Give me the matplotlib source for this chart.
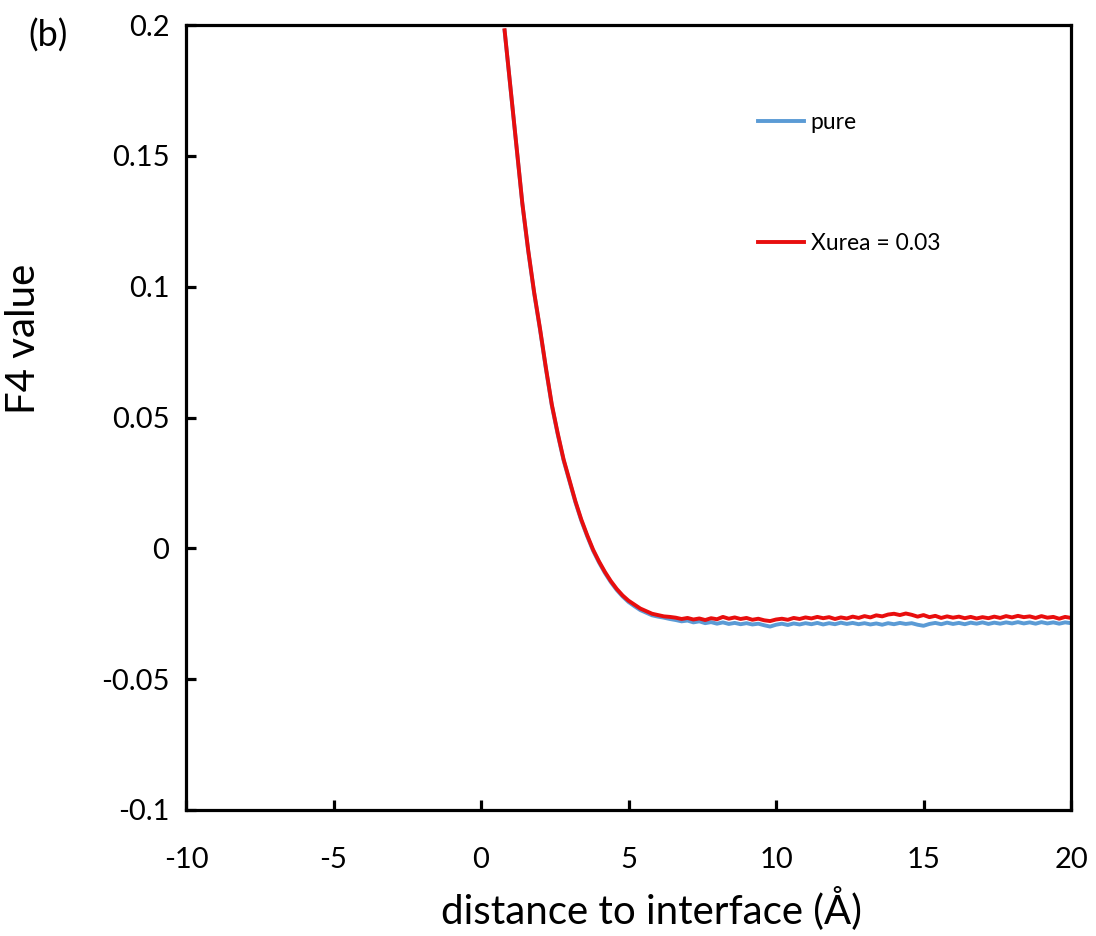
import numpy as np
import matplotlib
matplotlib.use("Agg")
import matplotlib.pyplot as plt

plt.rcParams['font.family'] = ['Lato', 'DejaVu Sans']

# Distance grid (Å) and F4 order parameter profiles
distance = np.round(np.arange(0.8, 20.0001, 0.2), 1)

f4_urea = [
    0.1980, 0.1760, 0.1540, 0.1320, 0.1140, 0.0980, 0.0840, 0.0690, 0.0550, 0.0440,
    0.0340, 0.0260, 0.0180, 0.0110, 0.0050, -0.0005, -0.0050, -0.0090, -0.0125, -0.0155,
    -0.0180, -0.0200, -0.0215, -0.0230, -0.0240, -0.0250, -0.0255, -0.0260, -0.0262,
    -0.0265, -0.0270, -0.0266, -0.0272, -0.0268, -0.0274, -0.0267, -0.0271, -0.0262, -0.0269,
    -0.0264, -0.0270, -0.0266, -0.0273, -0.0269, -0.0275, -0.0278, -0.0272, -0.0269, -0.0273,
    -0.0266, -0.0270, -0.0264, -0.0268, -0.0262, -0.0267, -0.0263, -0.0270, -0.0264, -0.0268,
    -0.0261, -0.0266, -0.0259, -0.0264, -0.0256, -0.0260, -0.0253, -0.0250, -0.0255, -0.0249,
    -0.0254, -0.0261, -0.0255, -0.0263, -0.0258, -0.0266, -0.0260, -0.0265, -0.0261, -0.0267,
    -0.0262, -0.0268, -0.0263, -0.0267, -0.0261, -0.0266, -0.0259, -0.0264, -0.0258, -0.0263,
    -0.0260, -0.0266, -0.0259, -0.0265, -0.0262, -0.0269, -0.0262, -0.0266,
]

f4_pure = [
    0.1978, 0.1758, 0.1538, 0.1318, 0.1136, 0.0976, 0.0836, 0.0686, 0.0546, 0.0436,
    0.0336, 0.0256, 0.0176, 0.0106, 0.0046, -0.0009, -0.0054, -0.0094, -0.0129, -0.0159,
    -0.0184, -0.0205, -0.0221, -0.0236, -0.0246, -0.0256, -0.0261, -0.0265, -0.0270,
    -0.0274, -0.0279, -0.0276, -0.0283, -0.0279, -0.0286, -0.0282, -0.0288, -0.0283, -0.0289,
    -0.0285, -0.0290, -0.0286, -0.0291, -0.0288, -0.0294, -0.0299, -0.0292, -0.0288, -0.0293,
    -0.0287, -0.0291, -0.0286, -0.0290, -0.0285, -0.0291, -0.0286, -0.0290, -0.0284, -0.0289,
    -0.0285, -0.0290, -0.0286, -0.0291, -0.0287, -0.0292, -0.0286, -0.0290, -0.0285, -0.0289,
    -0.0286, -0.0292, -0.0296, -0.0289, -0.0285, -0.0290, -0.0284, -0.0289, -0.0285, -0.0290,
    -0.0284, -0.0288, -0.0283, -0.0289, -0.0284, -0.0288, -0.0283, -0.0287, -0.0282, -0.0287,
    -0.0283, -0.0288, -0.0282, -0.0287, -0.0283, -0.0288, -0.0283, -0.0286,
]

series_labels = ["pure", "Xurea = 0.03"]
series_colors = ["#5B9BD5", "#E80E0E"]

x_ticks = [-10, -5, 0, 5, 10, 15, 20]
y_ticks = [-0.1, -0.05, 0, 0.05, 0.1, 0.15, 0.2]
y_tick_labels = ["-0.1", "-0.05", "0", "0.05", "0.1", "0.15", "0.2"]

fig = plt.figure(figsize=(10.96, 9.36), dpi=100)
ax = fig.add_axes([186 / 1096, 1 - 810 / 936, (1071 - 186) / 1096, (810 - 25) / 936])

ax.plot(distance, f4_pure, color=series_colors[0], lw=2.8, label=series_labels[0])
ax.plot(distance, f4_urea, color=series_colors[1], lw=2.8, label=series_labels[1])

ax.set_xlim(-10, 20)
ax.set_ylim(-0.1, 0.2)
ax.set_xticks(x_ticks)
ax.set_xticklabels([str(t) for t in x_ticks])
ax.set_yticks(y_ticks)
ax.set_yticklabels(y_tick_labels)

for sp in ax.spines.values():
    sp.set_linewidth(2.3)
    sp.set_color("black")
ax.tick_params(axis="both", direction="in", length=7.5, width=2.3, labelsize=21)
ax.tick_params(axis="x", pad=27)
ax.tick_params(axis="y", pad=12)
ax.tick_params(top=False, right=False)

ax.set_xlabel("distance to interface (Å)", fontsize=29)
ax.xaxis.set_label_coords((651 - 186) / 885, -0.097)
ax.set_ylabel("F4 value", fontsize=29)
ax.yaxis.set_label_coords(-0.163, (810 - 339) / 785)

leg = ax.legend(loc="upper left", bbox_to_anchor=((758 - 186) / 885, 1 - (112 - 25) / 785),
                frameon=False, fontsize=16.5, handlelength=2.0, handletextpad=0.3,
                labelspacing=4.35, borderaxespad=0, borderpad=0)

fig.text(28 / 1096, 1 - 36 / 936, "(b)", fontsize=26, va="center", ha="left")

fig.savefig("out.png", dpi=100, facecolor="white")
